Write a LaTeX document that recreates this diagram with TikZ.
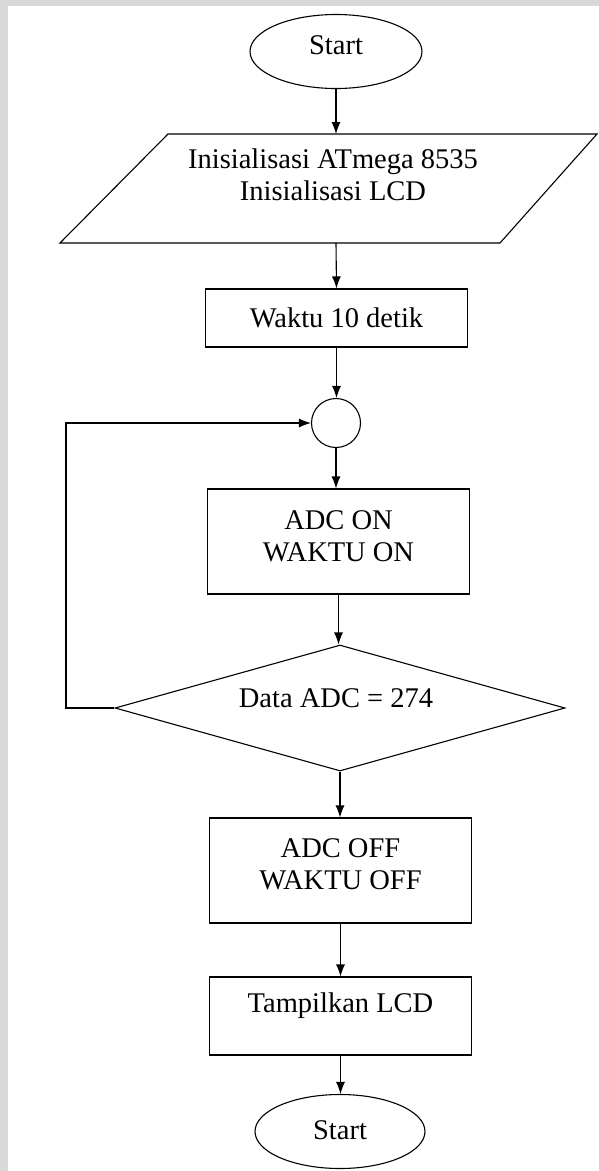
\documentclass[tikz,border=0pt]{standalone}
\usepackage{fontspec}
\setmainfont{Liberation Serif}
\usetikzlibrary{shapes.geometric, arrows.meta, positioning}

\begin{document}
\begin{tikzpicture}[x=1pt, y=-1pt, ->, >={Latex[length=12pt,width=9pt]}, line width=1.1pt,
		every node/.style={font=\fontsize{28.5}{32}\selectfont},
		term/.style={ellipse, draw, minimum width=172pt, minimum height=74pt, inner sep=0pt},
		proc/.style={rectangle, draw, minimum width=262pt, inner sep=0pt},
		junc/.style={circle, draw, minimum size=49pt, inner sep=0pt},
		cond/.style={diamond, draw, minimum width=450pt, minimum height=126pt, inner sep=0pt},
		txt/.style={align=center, inner sep=0pt}]
		\useasboundingbox (0,0) rectangle (599,1171);
		% page edge
		\fill[-, black!15] (0,0) rectangle (599,6);
		\fill[-, black!15] (0,0) rectangle (8,1171);
		
		\node[term] (start) at (336,51.5) {};
		\node[txt] (start-t) at (336,45) {Start};
		% input box (parallelogram)
		\draw[-] (60,243) -- (168,134) -- (597,134) -- (500,243) -- cycle;
		\coordinate (init-n) at (336,134);
		\coordinate (init-s) at (336,243);
		\node[txt] (init-t) at (333,175) {Inisialisasi ATmega 8535\\Inisialisasi LCD};
		\node[proc, minimum height=58pt] (wait) at (336.5,318) {};
		\node[txt] (wait-t) at (336.5,318) {Waktu 10 detik};
		\node[junc] (junc) at (336,423) {};
		\node[proc, minimum height=105pt] (adcon) at (338.5,541.5) {};
		\node[txt] (adcon-t) at (338.5,536) {ADC ON\\WAKTU ON};
		\node[cond] (cek) at (340,708) {};
		\node[txt] (cek-t) at (336,698) {Data ADC = 274};
		\node[proc, minimum height=105pt] (adcoff) at (340.5,870.5) {};
		\node[txt] (adcoff-t) at (340.5,864) {ADC OFF\\WAKTU OFF};
		\node[proc, minimum height=78pt] (lcd) at (340.5,1016) {};
		\node[txt] (lcd-t) at (340.5,1006) {Tampilkan LCD};
		\node[term, minimum width=170pt] (stop) at (340,1131.5) {};
		\node[txt] (stop-t) at (340,1130.5) {Start};
		\coordinate (back) at (66,708);
		
		\draw (start.south) -- (init-n);
		\draw (init-s) -- (wait.north);
		\draw (wait.south) -- (wait.south |- junc.north);
		\draw (junc.south) -- (junc.south |- adcon.north);
		\draw (adcon.south) -- (adcon.south |- cek.north);
		\draw (cek.south) -- (cek.south |- adcoff.north);
		\draw (adcoff) -- (lcd);
		\draw (lcd.south) -- (lcd.south |- stop.north);
		\draw (cek.west) -- (back) |- (junc.west);
	\end{tikzpicture}
\end{document}
